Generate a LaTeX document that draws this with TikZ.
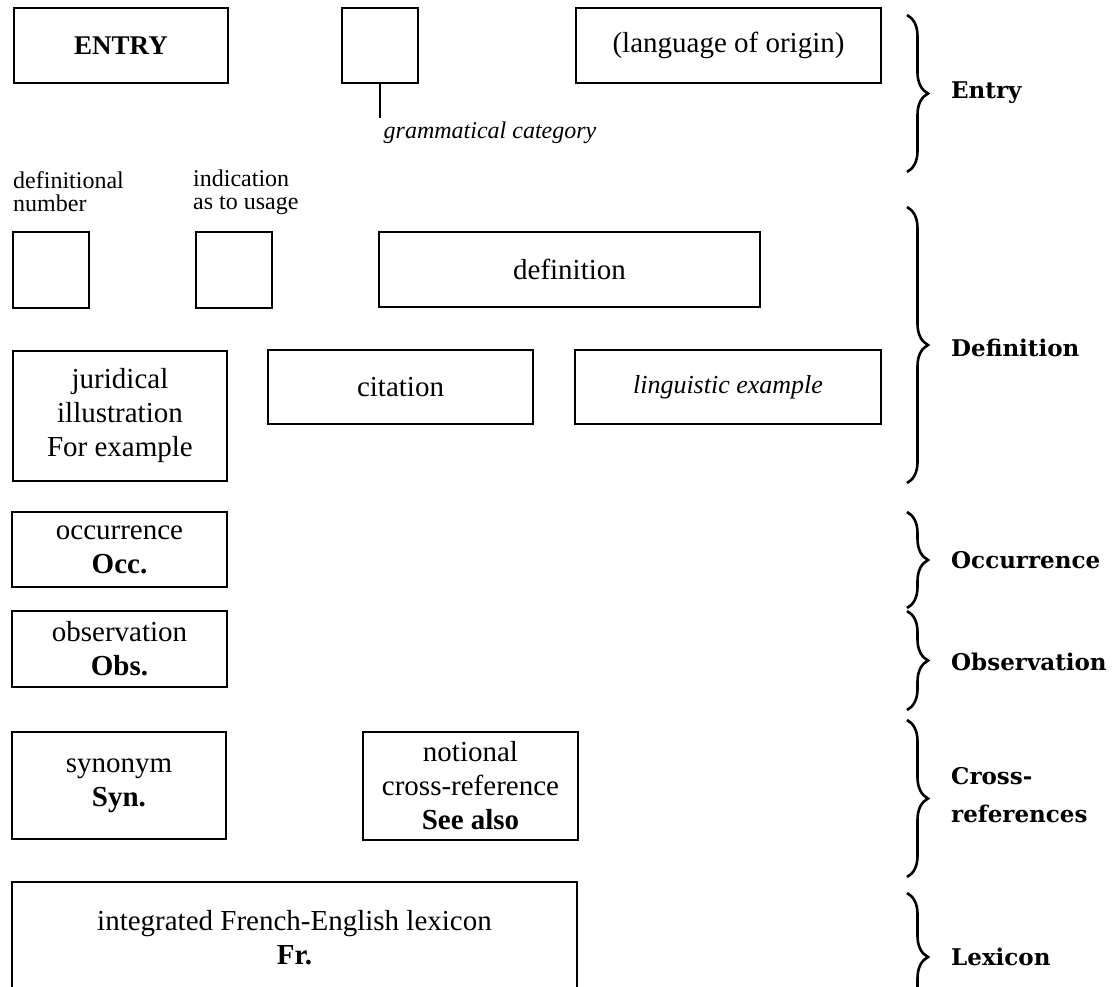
\documentclass[tikz,border=0pt]{standalone}
\usepackage{fontspec}
\setmainfont{Liberation Serif}
\newfontfamily\partfont{DejaVu Serif}
\usetikzlibrary{decorations.pathreplacing}
\usetikzlibrary{positioning}
\tikzstyle{box}=[draw=black,line width=1.6pt,inner sep=0pt,align=center,font=\fontsize{29}{34}\selectfont]
\tikzstyle{note}=[inner sep=0pt,align=left,anchor=west,font=\fontsize{24}{23}\selectfont]
\tikzstyle{part}=[inner sep=0pt,align=left,anchor=west,font=\partfont\bfseries\fontsize{23}{38}\selectfont]
\tikzstyle{brc}=[decorate,decoration={brace,amplitude=21pt},line width=2.6pt]

\begin{document}
\begin{tikzpicture}[x=1pt,y=-1pt]
  \useasboundingbox (0,0) rectangle (1113,986);
  \clip (0,0) rectangle (1113,986);
  % entry line
  \node[box,minimum width=214pt,minimum height=75pt] (entry) at (121,45.5) {\fontsize{27}{30}\selectfont\textbf{ENTRY}};
  \node[box,minimum width=76pt,minimum height=75pt] (gram) at (380,45.5) {};
  \node[box,minimum width=305pt,minimum height=75pt] (lang) at (728.5,45.5) {(language of origin)};
  \coordinate (gramend) at (380,118);
  \draw[line width=1.4pt] (gram.south) -- (gramend);
  \node[inner sep=0pt,font=\fontsize{24}{28}\selectfont\itshape] (gramlbl) at (490,133) {grammatical category};
  % definition
  \node[note] (numlbl) at (13,192) {definitional\\number};
  \node[note] (uselbl) at (193,192) {indication\\as to usage};
  \node[box,minimum width=76pt,minimum height=76pt] (defnum) at (51,270) {};
  \node[box,minimum width=76pt,minimum height=76pt] (usage) at (234,270) {};
  \node[box,minimum width=381pt,minimum height=75pt] (defn) at (569.5,269.5) {definition};
  \node[box,minimum width=214pt,minimum height=130pt] (jurid) at (120,416) {juridical\\illustration\\For example};
  \node[box,minimum width=265pt,minimum height=74pt] (cite) at (400.5,387) {citation};
  \node[box,minimum width=306pt,minimum height=74pt] (lingex) at (728,387) {\fontsize{26}{30}\selectfont\itshape linguistic example};
  % occurrence, observation
  \node[box,minimum width=215pt,minimum height=75pt] (occ) at (119.5,549.5) {occurrence\\\textbf{Occ.}};
  \node[box,minimum width=215pt,minimum height=76pt] (obs) at (119.5,649) {observation\\\textbf{Obs.}};
  % cross-references
  \node[box,minimum width=214pt,minimum height=107pt] (syn) at (119,785.5) {synonym\\\textbf{Syn.}};
  \node[box,minimum width=215pt,minimum height=108pt] (seealso) at (470.5,786) {notional\\cross-reference\\\textbf{See also}};
  % lexicon (runs off the page)
  \draw[line width=1.6pt] (12,1000) -- (12,882) -- (577,882) -- (577,1000);
  \node[align=center,inner sep=0pt,font=\fontsize{29}{34}\selectfont] (lex) at (294.5,938) {integrated French-English lexicon\\\textbf{Fr.}};
  % braces
  \draw[brc] (907,15) -- (907,172);
  \draw[brc] (907,207) -- (907,483);
  \draw[brc] (907,512) -- (907,608);
  \draw[brc] (907,611) -- (907,710);
  \draw[brc] (907,720) -- (907,877);
  \draw[brc] (907,893) -- (907,1021);
  \node[part] (pentry) at (951,93) {Entry};
  \node[part] (pdefn) at (951,348) {Definition};
  \node[part] (pocc) at (951,560) {Occurrence};
  \node[part] (pobs) at (951,662) {Observation};
  \node[part] (pcross) at (951,795) {Cross-\\references};
  \node[part] (plex) at (951,957) {Lexicon};
\end{tikzpicture}
\end{document}
